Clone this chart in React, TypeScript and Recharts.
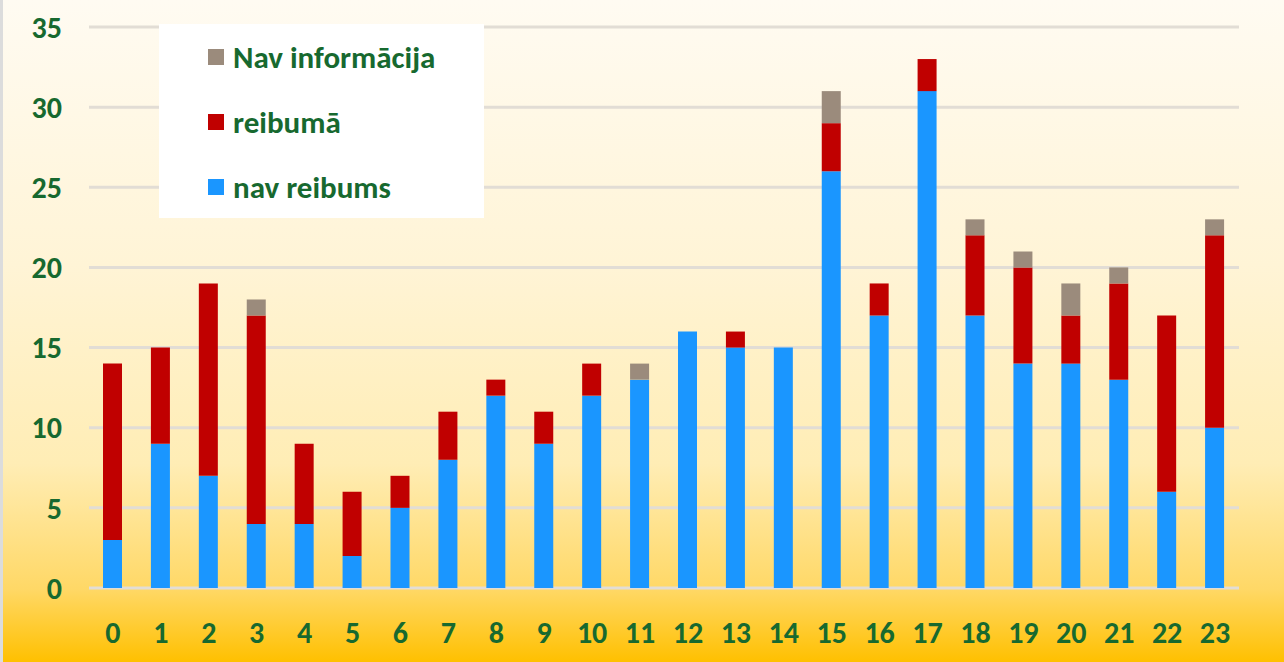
import { BarChart, Bar, XAxis, YAxis, CartesianGrid, Legend } from 'recharts';

const hours = ['0', '1', '2', '3', '4', '5', '6', '7', '8', '9', '10', '11', '12', '13', '14', '15', '16', '17', '18', '19', '20', '21', '22', '23'];
const navReibums = [3, 9, 7, 4, 4, 2, 5, 8, 12, 9, 12, 13, 16, 15, 15, 26, 17, 31, 17, 14, 14, 13, 6, 10];
const reibuma = [11, 6, 12, 13, 5, 4, 2, 3, 1, 2, 2, 0, 0, 1, 0, 3, 2, 2, 5, 6, 3, 6, 11, 12];
const navInfo = [0, 0, 0, 1, 0, 0, 0, 0, 0, 0, 0, 1, 0, 0, 0, 2, 0, 0, 1, 1, 2, 1, 0, 1];
const yTicks = [0, 5, 10, 15, 20, 25, 30, 35];
const legendOrder = ['Nav informācija', 'reibumā', 'nav reibums'];

const data = hours.map((h, i) => ({
  hour: h,
  nav: navReibums[i],
  reib: reibuma[i],
  info: navInfo[i],
}));

const GREEN = '#17692f';
const FONT = "Carlito, 'Liberation Sans', Arial, sans-serif";

function LegendBox({ payload }: any) {
  const items = legendOrder
    .map((name) => (payload || []).find((p: any) => p.value === name))
    .filter(Boolean);
  return (
    <div
      style={{
        background: '#fff',
        width: 325,
        height: 194,
        boxSizing: 'border-box',
        paddingTop: 0,
        paddingLeft: 49,
        fontFamily: FONT,
      }}
    >
      {items.map((p: any) => (
        <div key={p.value} style={{ display: 'flex', alignItems: 'center', height: 65 }}>
          <span style={{ width: 16, height: 16, background: p.color, display: 'inline-block', marginRight: 9 }} />
          <span style={{ color: GREEN, fontWeight: 'bold', fontSize: 31 }}>{p.value}</span>
        </div>
      ))}
    </div>
  );
}

export default function App() {
  return (
    <div
      style={{
        position: 'absolute',
        left: 0,
        top: 0,
        width: 1284,
        height: 662,
        boxSizing: 'border-box',
        borderLeft: '3px solid #dcdcdc',
        background: 'linear-gradient(to bottom, #fffbf2 0%, #fff4d6 40%, #ffedb5 70%, #ffd866 89%, #ffc000 100%)',
        overflow: 'hidden',
      }}
    >
      <BarChart
        width={1281}
        height={662}
        data={data}
        margin={{ top: 27, right: 45, left: 0, bottom: 0 }}
        style={{ position: 'absolute', left: 0, top: 0 }}
      >
        <CartesianGrid vertical={false} stroke="#e2ddd5" strokeWidth={3} />
        <XAxis
          dataKey="hour"
          axisLine={false}
          tickLine={false}
          height={74}
          tickMargin={28}
          tick={{ fill: GREEN, fontSize: 30, fontWeight: 'bold', fontFamily: FONT }}
          interval={0}
        />
        <YAxis
          domain={[0, 35]}
          ticks={yTicks}
          width={86}
          axisLine={false}
          tickLine={false}
          tickSize={0}
          tickMargin={27}
          tick={{ fill: GREEN, fontSize: 30, fontWeight: 'bold', fontFamily: FONT }}
        />
        <Legend
          layout="vertical"
          verticalAlign="middle"
          align="center"
          wrapperStyle={{ left: 156, top: 24, width: 325, height: 194 }}
          content={<LegendBox />}
        />
        <Bar dataKey="nav" name="nav reibums" stackId="a" fill="#1a96ff" barSize={19} isAnimationActive={false} />
        <Bar dataKey="reib" name="reibumā" stackId="a" fill="#c00000" barSize={19} isAnimationActive={false} />
        <Bar dataKey="info" name="Nav informācija" stackId="a" fill="#9b8b7c" barSize={19} isAnimationActive={false} />
      </BarChart>
    </div>
  );
}
